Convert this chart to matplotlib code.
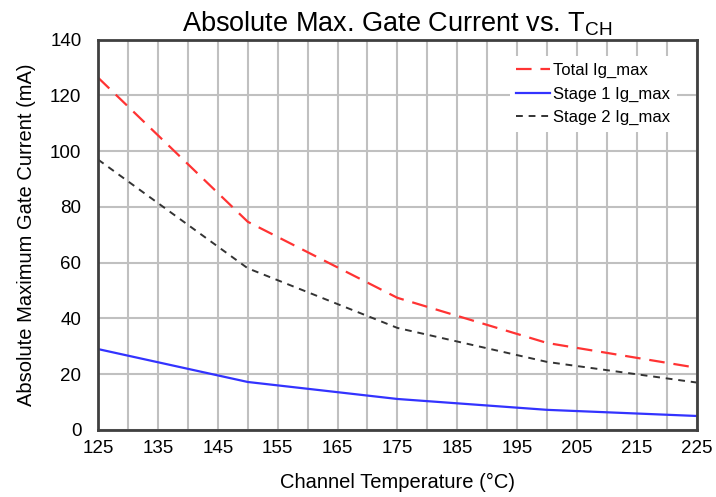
import matplotlib
matplotlib.use("Agg")
import matplotlib.pyplot as plt
from matplotlib.ticker import MultipleLocator

plt.rcParams['font.family'] = ['Liberation Sans', 'DejaVu Sans']

temps = [125, 150, 175, 200, 225]
total = [126.4, 74.7, 47.4, 31.2, 22.3]
stage1 = [29.0, 17.2, 11.1, 7.2, 5.0]
stage2 = [97.0, 58.0, 36.6, 24.4, 17.0]
xticks = list(range(125, 226, 10))
yticks = list(range(0, 141, 20))

fig = plt.figure(figsize=(7.16, 4.97), dpi=100)
ax = fig.add_axes([0.137, 0.135, 0.836, 0.785])

ax.plot(temps, total, color='#ff3333', lw=1.6, dashes=(7, 4), label='Total Ig_max')
ax.plot(temps, stage1, color='#3333ff', lw=1.6, label='Stage 1 Ig_max')
ax.plot(temps, stage2, color='#333333', lw=1.4, dashes=(3.5, 3), label='Stage 2 Ig_max')

ax.set_xlim(125, 225)
ax.set_ylim(0, 140)
ax.set_xticks(xticks)
ax.set_yticks(yticks)
ax.xaxis.set_minor_locator(MultipleLocator(5))
ax.grid(True, which='both', axis='x', color='#c0c0c0', lw=1.5)
ax.grid(True, which='major', axis='y', color='#c0c0c0', lw=1.5)
ax.set_axisbelow(True)
ax.tick_params(which='both', length=0, labelsize=13.5)
ax.tick_params(axis='y', pad=12)
ax.tick_params(axis='x', pad=7)
for s in ax.spines.values():
    s.set_color('#404040')
    s.set_linewidth(2)

ax.set_xlabel('Channel Temperature (\u00b0C)', fontsize=14.5, labelpad=12)
ax.set_ylabel('Absolute Maximum Gate Current (mA)', fontsize=14.5, labelpad=10)
ax.set_title('Absolute Max. Gate Current vs. T$_{\\mathregular{CH}}$', fontsize=19.5, pad=6)

leg = ax.legend(loc='upper right', bbox_to_anchor=(0.975, 0.97), frameon=True,
                fontsize=12, handlelength=2.0, handletextpad=0.2, labelspacing=0.5,
                borderaxespad=0.3)
leg.get_frame().set_edgecolor('none')
leg.get_frame().set_facecolor('white')
leg.get_frame().set_alpha(1)

fig.savefig('out.png', dpi=100)
